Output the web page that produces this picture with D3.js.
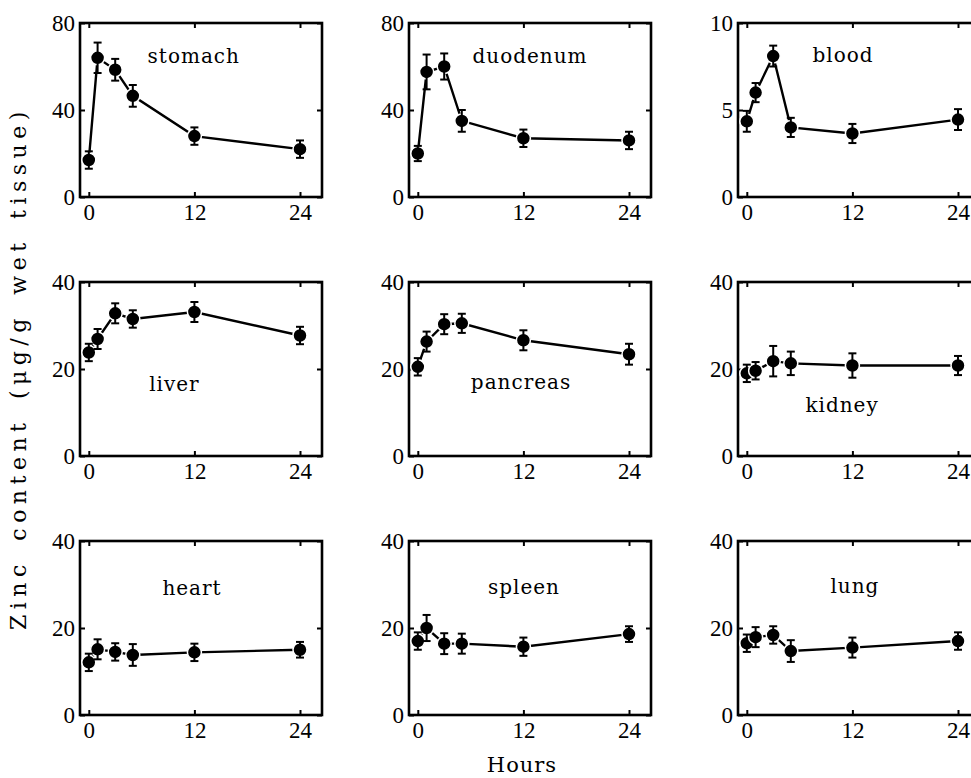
<!DOCTYPE html>
<html>
<head>
<meta charset="utf-8">
<script src="https://cdn.jsdelivr.net/npm/d3@7"></script>
<style>
  body { margin: 0; background: #fff; }
  svg { display: block; font-family: "DejaVu Serif", serif; }
  .tick line { stroke: #000; stroke-width: 2; }
  .organ { font-size: 20px; letter-spacing: 1px; }
</style>
</head>
<body>
<div id="chart"></div>
<script>
'use strict';

/* sampling times (h) */
var hours = [0, 1, 3, 5, 12, 24];
var xTicks = [0, 12, 24];

var organs = ['stomach', 'duodenum', 'blood', 'liver', 'pancreas', 'kidney', 'heart', 'spleen', 'lung'];

/* mean zinc content and error per organ */
var stomach = [17, 64, 58.5, 46.5, 28, 22];
var stomachErr = [4, 7, 5, 5, 4, 4];
var duodenum = [20, 57.5, 60, 35, 27, 26];
var duodenumErr = [3.5, 8, 6, 5, 4, 4];
var blood = [4.35, 6.0, 8.1, 4.0, 3.65, 4.45];
var bloodErr = [0.6, 0.55, 0.6, 0.55, 0.55, 0.6];
var liver = [23.8, 26.9, 32.8, 31.5, 33.1, 27.7];
var liverErr = [2, 2.3, 2.3, 2, 2.3, 2];
var pancreas = [20.5, 26.3, 30.3, 30.5, 26.6, 23.4];
var pancreasErr = [2, 2.3, 2.3, 2.2, 2.3, 2.4];
var kidney = [19, 19.6, 21.8, 21.3, 20.8, 20.8];
var kidneyErr = [2, 2, 3.5, 2.7, 2.8, 2.2];
var heart = [12.1, 15.1, 14.5, 13.8, 14.4, 15];
var heartErr = [2, 2.3, 2, 2.5, 2, 1.8];
var spleen = [17, 20, 16.4, 16.4, 15.7, 18.6];
var spleenErr = [2, 3, 2.4, 2.3, 2.1, 1.8];
var lung = [16.5, 17.9, 18.4, 14.7, 15.5, 17];
var lungErr = [2, 2.3, 2, 2.5, 2.3, 2];

var yTicks80 = [0, 40, 80];
var yTicks10 = [0, 5, 10];
var yTicks40 = [0, 20, 40];

var means = [stomach, duodenum, blood, liver, pancreas, kidney, heart, spleen, lung];
var errs = [stomachErr, duodenumErr, bloodErr, liverErr, pancreasErr, kidneyErr, heartErr, spleenErr, lungErr];
var yTickSets = [yTicks80, yTicks80, yTicks10, yTicks40, yTicks40, yTicks40, yTicks40, yTicks40, yTicks40];

/* layout: panel origins and label placement (fractions of the panel) */
var colX = [80, 409, 738];
var rowY = [23, 282, 541];
var panelW = 242, panelH = 174;
var labelFrac = [
  [0.47, 0.23], [0.50, 0.23], [0.434, 0.224],
  [0.39, 0.626], [0.463, 0.615], [0.43, 0.747],
  [0.463, 0.31], [0.475, 0.305], [0.483, 0.30]
];

var tickFont = '"Liberation Serif", "Times New Roman", serif';

var svg = d3.select('#chart')
  .append('svg')
  .attr('width', 971)
  .attr('height', 778);

var x = d3.scaleLinear().domain([-1, 26.5]).range([0, panelW]);

/** strip the axis line and restyle the labels */
function tidy(a) {
  a.attr('font-family', tickFont).attr('font-size', 23);
  a.select('.domain').remove();
  a.selectAll('.tick text').attr('fill', '#000');
}

organs.forEach(function (name, k) {
  var yt = yTickSets[k],
      vals = means[k],
      ers = errs[k],
      g, y, pts, eb;

  g = svg.append('g')
    .attr('transform', 'translate(' + colX[k % 3] + ',' + rowY[Math.floor(k / 3)] + ')');

  y = d3.scaleLinear().domain([0, yt[yt.length - 1]]).range([panelH, 0]);

  pts = hours.map(function (h, i) {
    return { h: h, v: vals[i], e: ers[i] };
  });

  // axes, ticks pointing inward on all four sides
  g.append('g')
    .call(d3.axisLeft(y).tickValues(yt).tickSizeInner(-5).tickSizeOuter(0).tickPadding(5))
    .call(tidy);
  g.append('g')
    .attr('transform', 'translate(' + panelW + ',0)')
    .call(d3.axisRight(y).tickValues(yt).tickSizeInner(-5).tickSizeOuter(0).tickFormat(''))
    .call(tidy);
  g.append('g')
    .attr('transform', 'translate(0,' + panelH + ')')
    .call(d3.axisBottom(x).tickValues(xTicks).tickSizeInner(-5).tickSizeOuter(0).tickPadding(7))
    .call(tidy);
  g.append('g')
    .call(d3.axisTop(x).tickValues(xTicks).tickSizeInner(-5).tickSizeOuter(0).tickFormat(''))
    .call(tidy);

  g.append('rect')
    .attr('width', panelW)
    .attr('height', panelH)
    .attr('fill', 'none')
    .attr('stroke', '#000')
    .attr('stroke-width', 2.6);

  g.append('path')
    .datum(pts)
    .attr('fill', 'none')
    .attr('stroke', '#000')
    .attr('stroke-width', 2.4)
    .attr('d', d3.line()
      .x(function (d) { return x(d.h); })
      .y(function (d) { return y(d.v); }));

  g.selectAll('circle')
    .data(pts)
    .enter()
    .append('circle')
      .attr('cx', function (d) { return x(d.h); })
      .attr('cy', function (d) { return y(d.v); })
      .attr('r', 7)
      .attr('fill', '#000')
      .attr('stroke', '#fff')
      .attr('stroke-width', 1.5);

  eb = g.selectAll('.eb')
    .data(pts)
    .enter()
    .append('g')
      .attr('class', 'eb')
      .attr('stroke', '#000')
      .attr('stroke-width', 2);

  eb.append('line')
    .attr('x1', function (d) { return x(d.h); })
    .attr('x2', function (d) { return x(d.h); })
    .attr('y1', function (d) { return y(d.v + d.e); })
    .attr('y2', function (d) { return y(d.v - d.e); });
  eb.append('line')
    .attr('x1', function (d) { return x(d.h) - 4; })
    .attr('x2', function (d) { return x(d.h) + 4; })
    .attr('y1', function (d) { return y(d.v + d.e); })
    .attr('y2', function (d) { return y(d.v + d.e); });
  eb.append('line')
    .attr('x1', function (d) { return x(d.h) - 4; })
    .attr('x2', function (d) { return x(d.h) + 4; })
    .attr('y1', function (d) { return y(d.v - d.e); })
    .attr('y2', function (d) { return y(d.v - d.e); });

  g.append('text')
    .attr('class', 'organ')
    .attr('x', labelFrac[k][0] * panelW)
    .attr('y', labelFrac[k][1] * panelH)
    .attr('text-anchor', 'middle')
    .text(name);
});

svg.append('text')
  .attr('transform', 'translate(26,630) rotate(-90)')
  .attr('text-anchor', 'start')
  .style('font-size', '22px')
  .style('letter-spacing', '5.5px')
  .style('word-spacing', '6px')
  .text('Zinc content (\u03bcg/g wet tissue)');

svg.append('text')
  .attr('x', 522)
  .attr('y', 772)
  .attr('text-anchor', 'middle')
  .style('font-size', '21px')
  .style('letter-spacing', '1px')
  .text('Hours');
</script>
</body>
</html>
